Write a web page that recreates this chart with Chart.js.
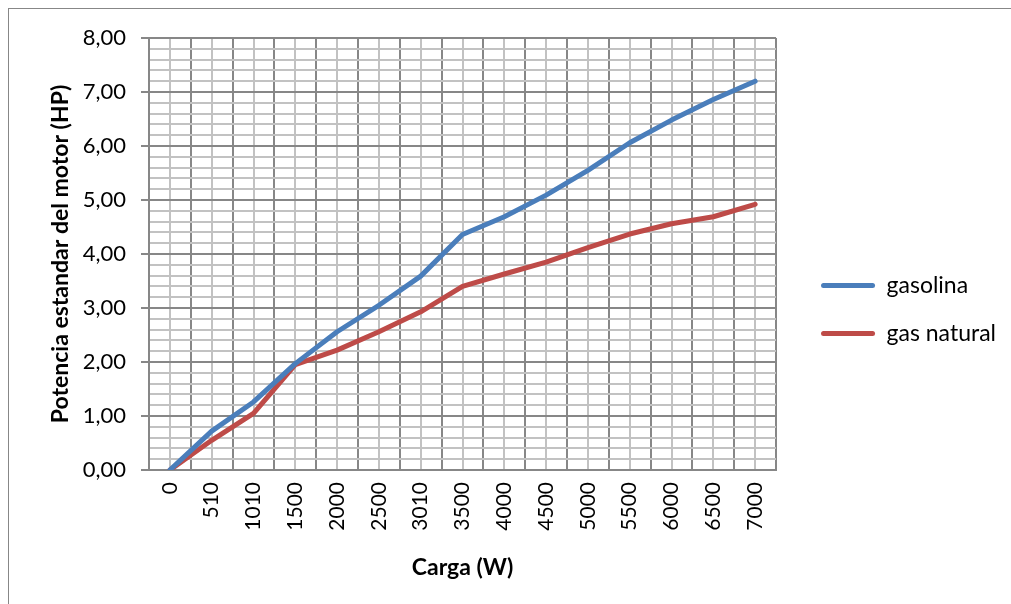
<!DOCTYPE html>
<html>
<head>
<meta charset="utf-8">
<script src="https://cdn.jsdelivr.net/npm/chart.js@4.4.1/dist/chart.umd.min.js"></script>
<style>
  html, body { margin: 0; padding: 0; background: #fff; }
  canvas { display: block; }
</style>
</head>
<body>
<canvas id="potencia" width="1011" height="604"></canvas>
<script>
// Carga (W) en el eje x
const cargas = ['0', '510', '1010', '1500', '2000', '2500', '3010', '3500', '4000', '4500', '5000', '5500', '6000', '6500', '7000'];
// Potencia estandar del motor (HP)
const gasolina = [0, 0.72, 1.26, 1.97, 2.56, 3.05, 3.59, 4.36, 4.69, 5.09, 5.55, 6.06, 6.48, 6.86, 7.20];
const gasNatural = [0, 0.55, 1.05, 1.95, 2.22, 2.56, 2.93, 3.40, 3.63, 3.85, 4.12, 4.37, 4.56, 4.69, 4.92];
const yMin = 0;
const yMax = 8;
const yMinorStep = 0.2;

const FONT = "Lato, 'Open Sans', sans-serif";
const MAJOR = '#878787';
const MINOR = '#c2c2c2';

const isMajor = v => Math.abs(v - Math.round(v)) < 1e-6;

// white background, outer chart border and the light vertical lines at each category
const fondo = {
    id: 'fondo',
    beforeDraw(chart) {
        const c = chart.ctx;
        c.save();
        c.fillStyle = '#fff';
        c.fillRect(0, 0, chart.width, chart.height);
        c.strokeStyle = MAJOR;
        c.lineWidth = 1;
        c.strokeRect(8.5, 8.5, chart.width + 20, chart.height + 20);
        const x = chart.scales.x;
        const area = chart.chartArea;
        c.strokeStyle = MINOR;
        c.lineWidth = 2;
        cargas.forEach((_, i) => {
            const px = Math.round(x.getPixelForValue(i));
            c.beginPath();
            c.moveTo(px, area.top);
            c.lineTo(px, area.bottom);
            c.stroke();
        });
        c.restore();
    }
};

// legend swatches as thin rounded bars in the series colour
function etiquetas(chart) {
    return Chart.defaults.plugins.legend.labels.generateLabels(chart).map(item => ({
        ...item,
        fillStyle: item.strokeStyle,
        lineWidth: 0,
        borderRadius: 2.5
    }));
}

function dibujar() {
    new Chart(document.getElementById('potencia').getContext('2d'), {
        type: 'line',
        data: {
            labels: cargas,
            datasets: [{
                label: 'gasolina',
                data: gasolina,
                borderColor: '#4a7ebb',
                backgroundColor: '#4a7ebb',
                borderWidth: 5,
                borderCapStyle: 'round',
                borderJoinStyle: 'round',
                pointRadius: 0,
                tension: 0
            }, {
                label: 'gas natural',
                data: gasNatural,
                borderColor: '#be4b48',
                backgroundColor: '#be4b48',
                borderWidth: 5,
                borderCapStyle: 'round',
                borderJoinStyle: 'round',
                pointRadius: 0,
                tension: 0
            }]
        },
        options: {
            responsive: false,
            animation: false,
            layout: { padding: { left: 10, right: 5, top: 38, bottom: 23 } },
            plugins: {
                tooltip: { enabled: false },
                legend: {
                    position: 'right',
                    maxWidth: 300,
                    labels: {
                        boxWidth: 54,
                        boxHeight: 5,
                        padding: 25,
                        color: '#000',
                        font: { family: FONT, size: 23 },
                        generateLabels: etiquetas
                    }
                }
            },
            scales: {
                x: {
                    offset: true,
                    grid: {
                        offset: true,
                        color: MAJOR,
                        lineWidth: 2,
                        drawTicks: false
                    },
                    border: { color: MAJOR, width: 2 },
                    ticks: {
                        autoSkip: false,
                        minRotation: 90,
                        maxRotation: 90,
                        padding: 12,
                        color: '#000',
                        font: { family: FONT, size: 21 }
                    },
                    title: {
                        display: true,
                        text: 'Carga (W)',
                        color: '#000',
                        padding: { top: 2, bottom: 0 },
                        font: { family: FONT, size: 23, weight: 'bold' }
                    },
                    afterFit(s) { s.height = 111; }
                },
                y: {
                    min: yMin,
                    max: yMax,
                    grid: {
                        color: ctx => isMajor(ctx.tick.value) ? MAJOR : MINOR,
                        tickColor: ctx => isMajor(ctx.tick.value) ? MAJOR : 'rgba(0,0,0,0)',
                        lineWidth: 2,
                        tickLength: 8
                    },
                    border: { color: MAJOR, width: 2 },
                    ticks: {
                        stepSize: yMinorStep,
                        autoSkip: false,
                        padding: 15,
                        color: '#000',
                        font: { family: FONT, size: 22 },
                        callback: v => isMajor(v) ? Math.round(v).toFixed(2).replace('.', ',') : ''
                    },
                    title: {
                        display: true,
                        text: 'Potencia estandar del motor (HP)',
                        color: '#000',
                        padding: { top: 37, bottom: 0 },
                        font: { family: FONT, size: 23, weight: 'bold' }
                    },
                    afterFit(s) { s.width = 139; }
                },
                // empty strip between the plot and the legend
                hueco: {
                    type: 'linear',
                    position: 'right',
                    grid: { display: false },
                    border: { display: false },
                    ticks: { display: false },
                    afterFit(s) { s.width = 20; }
                }
            }
        },
        plugins: [fondo]
    });
}

// make sure Lato is ready before the legend gets measured
Promise.all([
    document.fonts.load('23px Lato'),
    document.fonts.load('bold 23px Lato')
]).then(dibujar, dibujar);
</script>
</body>
</html>
